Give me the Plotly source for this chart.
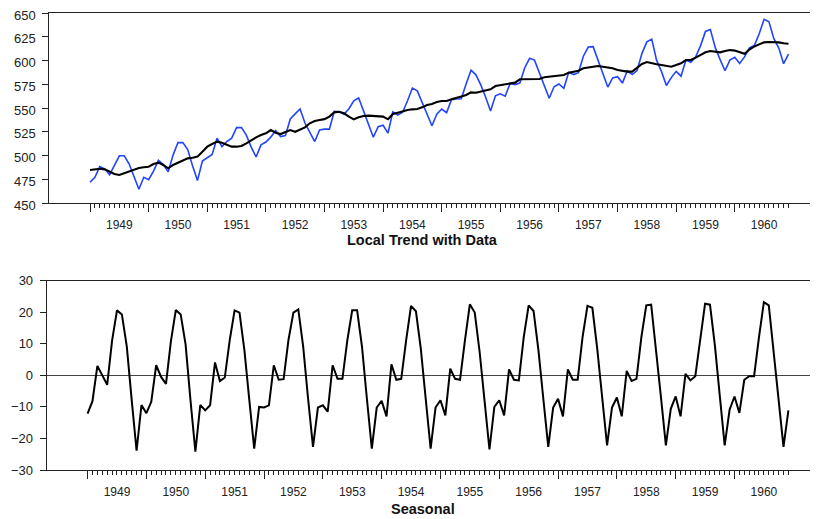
import plotly.graph_objects as go

# ---------------- data ----------------
years = list(range(1949, 1961))
year_labels = [str(y) for y in years]

# monthly observations (log scale x100), Jan 1949 .. Dec 1960
data_values = [
    471.8, 477.1, 488.3, 486.0, 479.6, 490.5, 499.7, 499.7, 491.3, 477.9, 464.4, 477.1,
    474.5, 483.6, 494.9, 490.5, 482.8, 500.4, 513.6, 513.6, 506.3, 489.0, 473.6, 494.2,
    497.7, 501.1, 518.2, 509.4, 514.7, 518.2, 529.3, 529.3, 521.5, 508.8, 498.4, 511.2,
    514.2, 519.3, 526.3, 519.9, 521.0, 538.4, 543.8, 548.9, 534.2, 525.2, 514.7, 526.8,
    527.8, 527.8, 546.4, 546.0, 543.4, 549.3, 557.6, 560.6, 546.8, 535.2, 519.3, 530.3,
    531.8, 523.6, 546.0, 542.5, 545.5, 557.6, 571.0, 568.0, 555.7, 543.4, 531.3, 543.4,
    548.9, 545.1, 558.7, 559.5, 559.8, 575.3, 589.7, 584.9, 574.3, 561.3, 546.8, 562.8,
    564.9, 562.4, 575.9, 574.6, 576.2, 592.4, 602.3, 600.4, 587.2, 572.4, 560.2, 572.4,
    575.3, 570.7, 587.5, 585.2, 587.2, 604.5, 614.2, 614.6, 600.1, 584.9, 572.0, 581.7,
    582.9, 576.2, 589.2, 585.2, 589.4, 607.5, 619.6, 622.5, 600.1, 588.3, 573.7, 582.0,
    588.6, 583.5, 600.6, 598.1, 604.0, 615.7, 630.6, 632.6, 613.8, 600.9, 589.2, 600.4,
    603.3, 596.9, 603.8, 613.3, 615.7, 628.2, 643.3, 640.7, 623.0, 613.3, 596.6, 606.8,
]

trend_values = [
    484.7, 485.8, 486.1, 485.4, 483.0, 480.5, 479.5, 481.2, 483.7, 485.4, 486.8, 487.6,
    488.2, 491.0, 492.5, 490.0, 486.5, 490.0, 492.5, 494.6, 497.0, 497.7, 498.8, 504.0,
    509.3, 512.1, 514.6, 513.5, 511.8, 509.3, 509.3, 510.0, 512.8, 516.3, 519.1, 521.6,
    523.3, 526.8, 524.0, 522.6, 525.0, 526.8, 525.0, 527.5, 529.6, 533.9, 536.3, 537.4,
    538.3, 540.9, 545.4, 546.1, 544.4, 540.9, 538.1, 540.2, 541.6, 542.0, 541.6, 541.2,
    540.9, 538.1, 543.7, 545.1, 546.8, 547.9, 548.6, 549.0, 550.7, 553.2, 554.2, 556.3,
    557.4, 557.4, 559.1, 560.2, 562.0, 563.7, 566.5, 566.1, 567.5, 568.9, 569.7, 573.1,
    574.2, 574.9, 576.0, 576.7, 580.2, 580.2, 580.2, 580.2, 580.5, 582.3, 583.0, 583.7,
    584.0, 584.7, 587.2, 588.3, 589.3, 591.8, 592.8, 593.5, 594.2, 593.5, 592.8, 591.8,
    590.0, 589.0, 588.3, 588.3, 592.8, 596.3, 598.4, 597.0, 596.0, 595.3, 594.2, 593.5,
    595.3, 597.0, 600.5, 600.5, 603.0, 605.8, 608.6, 610.0, 609.3, 608.6, 610.0, 611.1,
    610.4, 608.8, 607.0, 611.5, 614.8, 617.0, 619.1, 619.5, 619.5, 619.1, 618.1, 617.7,
]

seasonal_values = [
    -12.1, -8.2, 3.0, 0.2, -3.0, 11.0, 20.6, 19.3, 9.2, -7.8, -23.9, -9.4,
    -12.0, -8.4, 3.2, -0.5, -2.7, 10.8, 20.7, 19.3, 9.8, -7.9, -24.2, -9.4,
    -11.1, -9.5, 4.1, -1.8, -0.7, 11.1, 20.6, 19.9, 8.0, -7.8, -23.2, -10.0,
    -10.2, -9.5, 3.2, -1.4, -1.2, 11.3, 19.9, 20.9, 9.0, -7.5, -22.7, -10.2,
    -9.5, -11.5, 3.2, -1.1, -1.1, 11.1, 20.6, 20.6, 9.0, -7.5, -23.2, -10.2,
    -8.1, -13.0, 3.5, -1.4, -1.1, 11.1, 22.0, 20.3, 8.4, -7.5, -23.2, -10.2,
    -7.9, -12.7, 2.1, -1.1, -1.4, 11.1, 22.5, 19.9, 7.4, -8.0, -23.5, -10.0,
    -7.9, -12.7, 1.9, -1.4, -1.6, 12.1, 22.2, 20.4, 7.9, -7.5, -22.7, -10.2,
    -7.4, -13.0, 1.9, -1.4, -1.4, 12.1, 22.0, 21.4, 8.4, -7.0, -22.2, -10.2,
    -7.0, -13.0, 1.4, -1.8, -1.1, 12.1, 22.2, 22.4, 8.4, -7.0, -22.2, -10.6,
    -6.7, -13.0, 0.5, -1.6, -0.3, 12.1, 22.7, 22.4, 9.5, -6.5, -22.2, -10.9,
    -6.7, -11.9, -1.4, -0.3, -0.3, 12.1, 23.2, 22.2, 6.9, -8.0, -22.7, -11.1,
]

top_yticks = [450, 475, 500, 525, 550, 575, 600, 625, 650]
bot_yticks = [-30, -20, -10, 0, 10, 20, 30]

# ---------------- derived positions ----------------
months = [years[0] + k / 12 for k in range(len(data_values))]
label_pos = [y + 0.5 for y in years]

# the page body has an 8px margin: the figure sits at (8, 8) in the window
OFF = 8
W, H = 818 - OFF, 519 - OFF
FONT = "Liberation Sans, Arial, sans-serif"
AX = "#222222"
XR = [1948.305, 1961.42]


def px(x):
    return (x - OFF) / W


def py(y):
    return (H - (y - OFF)) / H


top_dom = [py(203), py(13)]
bot_dom = [py(470), py(280.7)]
top_x_dom = [px(49.3), 1.0]
bot_x_dom = [px(46.7), 1.0]

fig = go.Figure()
fig.add_trace(go.Scatter(x=months, y=data_values, mode="lines",
                         line=dict(color="#2244ff", width=1.6),
                         xaxis="x", yaxis="y", showlegend=False, hoverinfo="skip"))
fig.add_trace(go.Scatter(x=months, y=trend_values, mode="lines",
                         line=dict(color="#000000", width=2.1),
                         xaxis="x", yaxis="y", showlegend=False, hoverinfo="skip"))
fig.add_trace(go.Scatter(x=months, y=seasonal_values, mode="lines",
                         line=dict(color="#000000", width=2),
                         xaxis="x2", yaxis="y2", showlegend=False, hoverinfo="skip"))
# carriers for label axes
fig.add_trace(go.Scatter(x=[], y=[], xaxis="x3", yaxis="y", showlegend=False))
fig.add_trace(go.Scatter(x=[], y=[], xaxis="x4", yaxis="y2", showlegend=False))


def tick_axis(dom, anchor):
    return dict(domain=dom, range=XR, anchor=anchor, showgrid=False, zeroline=False,
                showline=True, linecolor=AX, linewidth=1, mirror=True,
                tickmode="array", tickvals=years, ticks="outside", ticklen=8,
                tickwidth=1, tickcolor=AX, showticklabels=False, automargin=False,
                minor=dict(tickmode="array", tickvals=months, ticks="outside",
                           ticklen=4, tickwidth=1, tickcolor=AX, showgrid=False))


def label_axis(dom, anchor, over):
    return dict(domain=dom, range=XR, anchor=anchor, overlaying=over,
                showgrid=False, zeroline=False, showline=False,
                tickmode="array", tickvals=label_pos, ticktext=year_labels,
                ticks="outside", ticklen=11, tickcolor="rgba(0,0,0,0)",
                ticklabeloverflow="allow",
                tickfont=dict(family=FONT, size=12, color=AX), automargin=False)


fig.update_layout(
    width=W, height=H, autosize=False, template="none",
    paper_bgcolor="white", plot_bgcolor="white",
    margin=dict(l=0, r=0, t=0, b=0),
    xaxis=tick_axis(top_x_dom, "y"),
    xaxis2=tick_axis(bot_x_dom, "y2"),
    xaxis3=label_axis(top_x_dom, "y", "x"),
    xaxis4=label_axis(bot_x_dom, "y2", "x2"),
    yaxis=dict(domain=top_dom, range=[450, 650], anchor="x", showgrid=False,
               zeroline=False, showline=True, linecolor=AX, linewidth=1,
               tickmode="array", tickvals=top_yticks, ticks="outside", ticklen=6,
               tickcolor=AX, ticklabelstandoff=4, ticklabeloverflow="allow",
               ticklabelshift=2,
               tickfont=dict(family=FONT, size=13, color=AX), automargin=False),
    yaxis2=dict(domain=bot_dom, range=[-30, 30], anchor="x2", showgrid=False,
                zeroline=True, zerolinecolor="#444444", zerolinewidth=1,
                showline=True, linecolor=AX, linewidth=1,
                tickmode="array", tickvals=bot_yticks, ticks="outside", ticklen=6,
                tickcolor=AX, ticklabelstandoff=4, ticklabeloverflow="allow",
                tickfont=dict(family=FONT, size=13, color=AX), automargin=False),
    annotations=[
        dict(text="<b>Local Trend with Data</b>", x=px(422.5), y=py(240),
             xref="paper", yref="paper", showarrow=False, xanchor="center",
             yanchor="middle", font=dict(family=FONT, size=14.5, color="#111111")),
        dict(text="<b>Seasonal</b>", x=px(422.5), y=py(508.5),
             xref="paper", yref="paper", showarrow=False, xanchor="center",
             yanchor="middle", font=dict(family=FONT, size=14.5, color="#111111")),
    ],
)

fig.write_html("out.html")
